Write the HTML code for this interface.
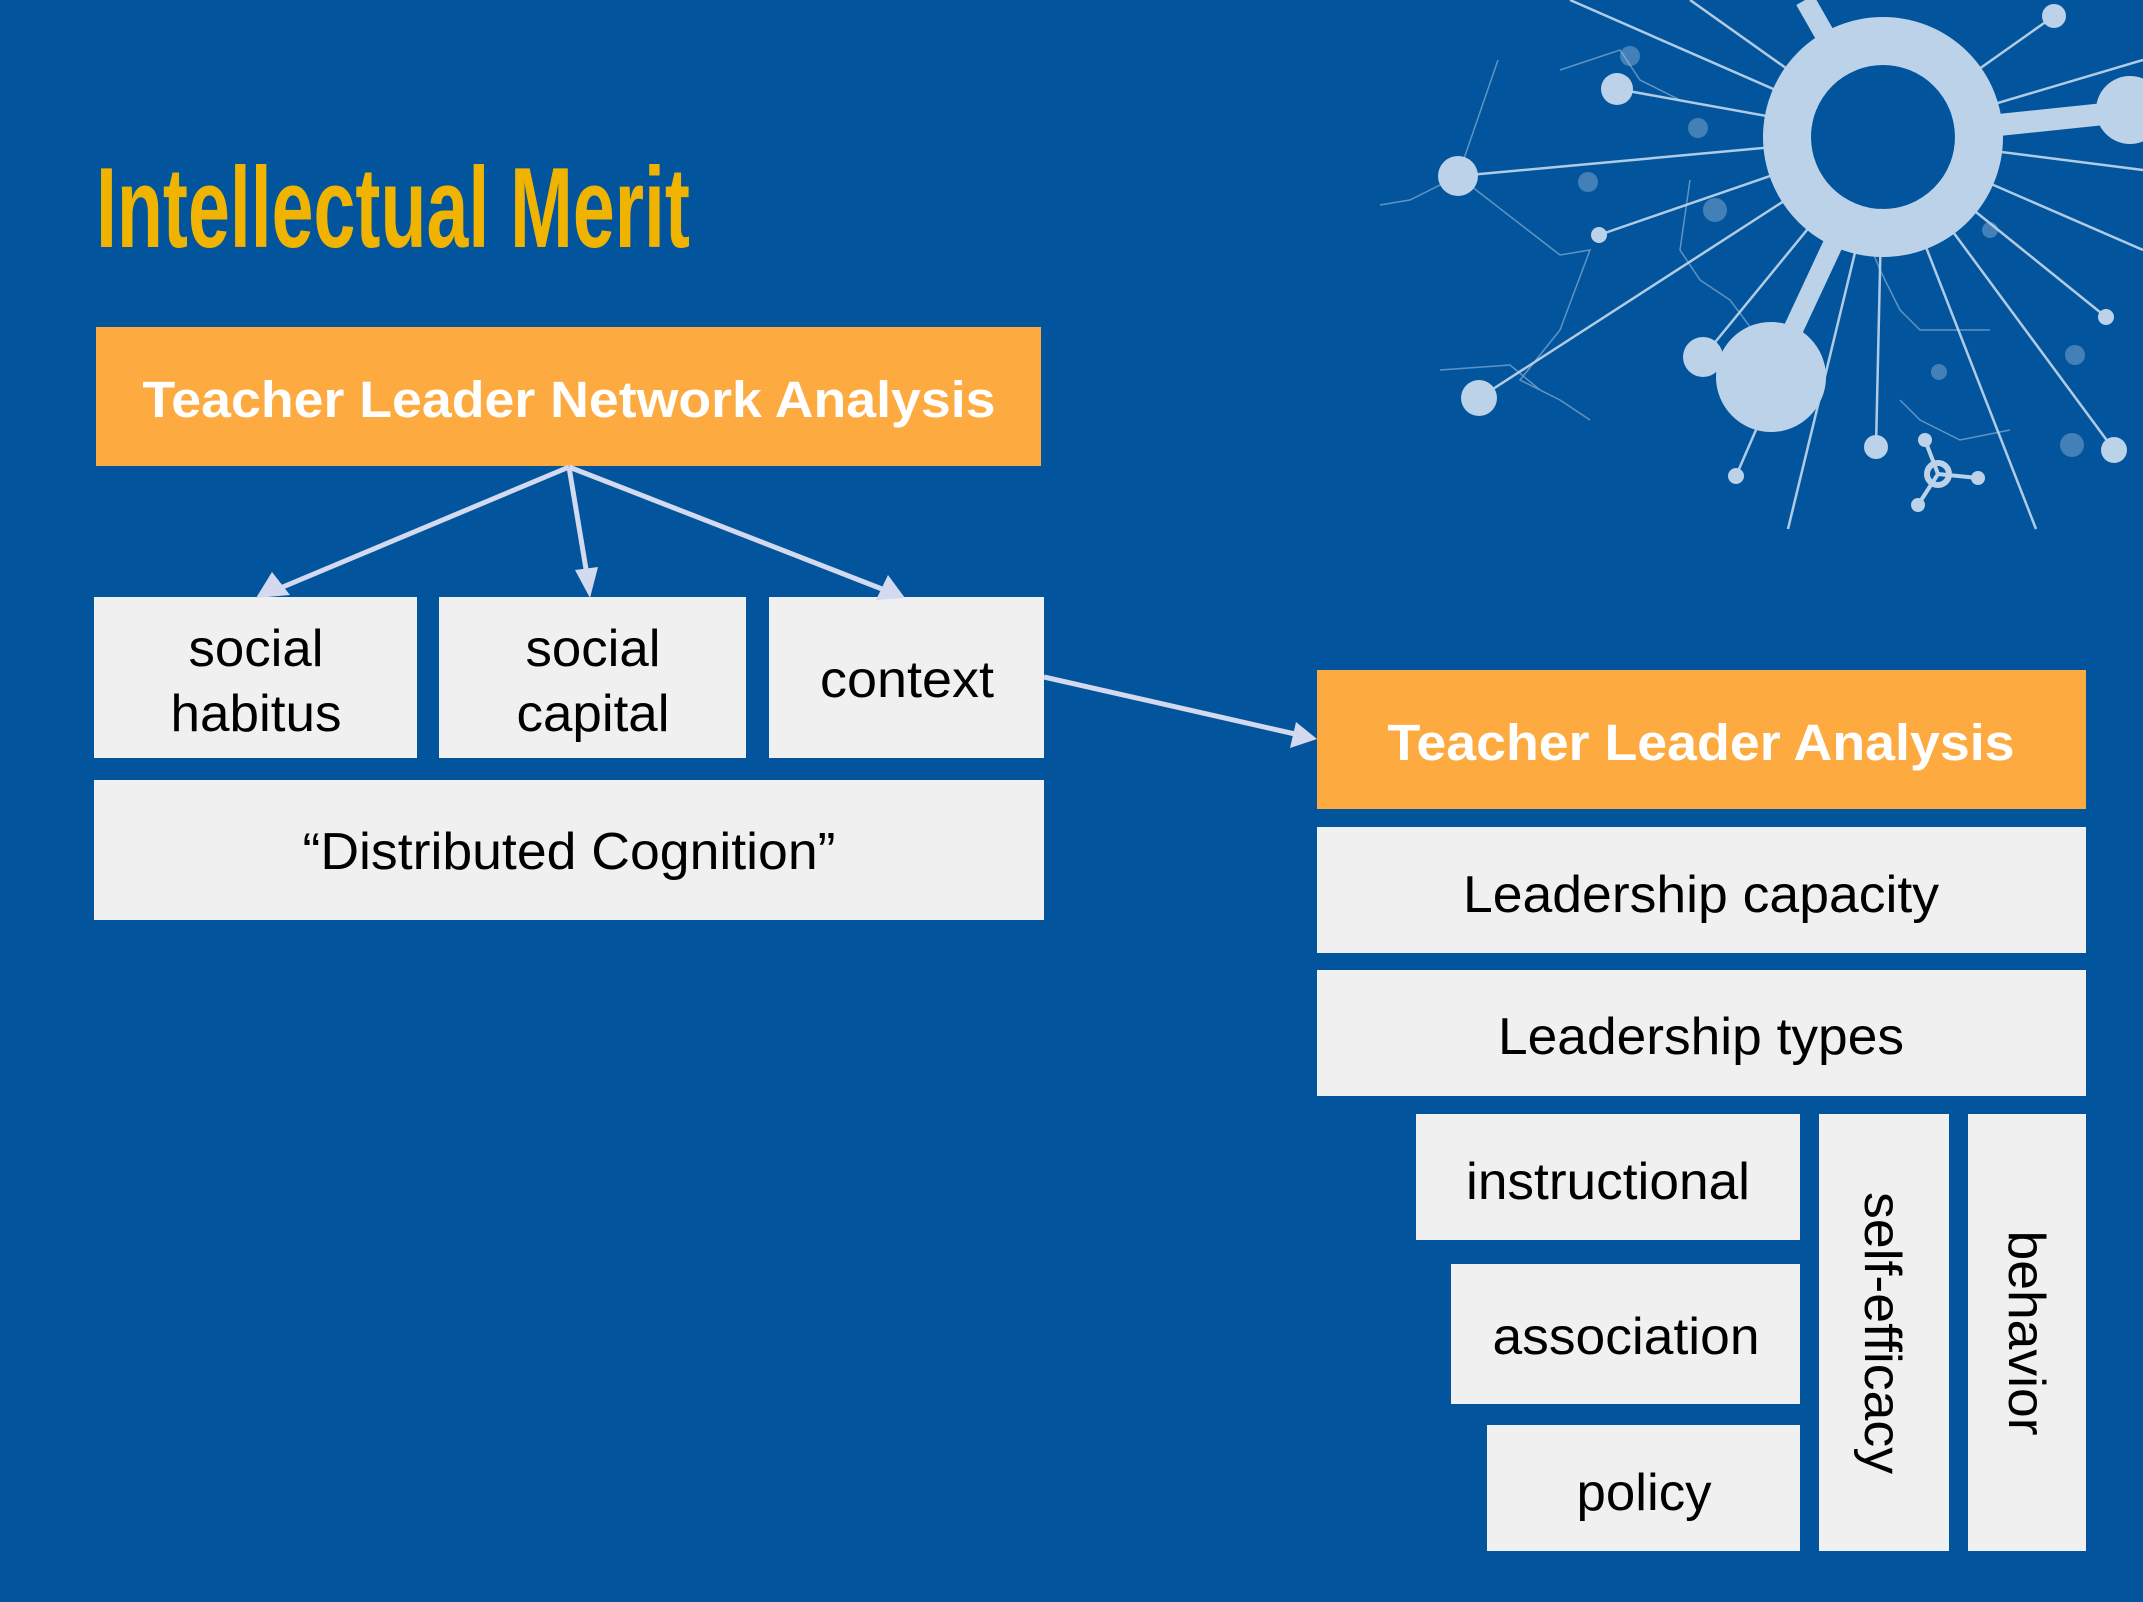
<!DOCTYPE html>
<html><head><meta charset="utf-8"><style>
html,body{margin:0;padding:0;background:#02559d;}
svg{display:block}
text{font-family:"Liberation Sans",Arial,sans-serif}
</style></head><body>
<svg width="2143" height="1602" viewBox="0 0 2143 1602" xmlns="http://www.w3.org/2000/svg">
<rect width="2143" height="1602" fill="#02559d"/>
<!-- network decoration -->
<g stroke="#bcd2e8" fill="#bcd2e8">
 <g stroke-width="2.5" opacity="0.95">
  <line x1="1883" y1="137" x2="1570" y2="0"/>
  <line x1="1883" y1="137" x2="1690" y2="0"/>
  <line x1="1883" y1="137" x2="1617" y2="89"/>
  <line x1="1883" y1="137" x2="1458" y2="176"/>
  <line x1="1883" y1="137" x2="1599" y2="235"/>
  <line x1="1883" y1="137" x2="1479" y2="398"/>
  <line x1="1883" y1="137" x2="1703" y2="357"/>
  <line x1="1883" y1="137" x2="1736" y2="476"/>
  <line x1="1883" y1="137" x2="1788" y2="529"/>
  <line x1="1883" y1="137" x2="1876" y2="447"/>
  <line x1="1883" y1="137" x2="2036" y2="529"/>
  <line x1="1883" y1="137" x2="2114" y2="450"/>
  <line x1="1883" y1="137" x2="2106" y2="317"/>
  <line x1="1883" y1="137" x2="2143" y2="250"/>
  <line x1="1883" y1="137" x2="2054" y2="16"/>
  <line x1="1883" y1="137" x2="2143" y2="60"/>
  <line x1="1883" y1="137" x2="2143" y2="170"/>
 </g>
 <g stroke-width="1.5" opacity="0.5" fill="none">
  <polyline points="1380,205 1410,200 1458,176 1498,60"/>
  <polyline points="1458,176 1560,255 1590,250 1560,330 1520,380 1560,400 1590,420"/>
  <polyline points="1690,180 1680,250 1700,280 1730,300 1760,340 1790,400"/>
  <polyline points="1860,220 1880,270 1900,310 1920,330 1990,330"/>
  <polyline points="1440,370 1510,365 1540,390"/>
  <polyline points="1900,400 1920,420 1960,440 2010,430"/>
  <polyline points="1560,70 1620,50 1640,80 1680,100"/>
 </g>
 <g stroke="none" opacity="0.35">
  <circle cx="1588" cy="182" r="10"/><circle cx="1698" cy="128" r="10"/><circle cx="1715" cy="210" r="12"/>
  <circle cx="1930" cy="190" r="10"/><circle cx="1990" cy="230" r="8"/><circle cx="2075" cy="355" r="10"/>
  <circle cx="2072" cy="445" r="12"/><circle cx="1939" cy="372" r="8"/><circle cx="1630" cy="56" r="10"/>
 </g>
 <line x1="1883" y1="137" x2="1771" y2="377" stroke-width="20"/>
 <line x1="1883" y1="137" x2="2143" y2="110" stroke-width="22"/>
 <line x1="1883" y1="137" x2="1805" y2="0" stroke-width="20"/>
 <circle cx="1883" cy="137" r="72" fill="#02559d" stroke="none"/>
 <circle cx="1883" cy="137" r="96" fill="none" stroke-width="48"/>
 <circle cx="1771" cy="377" r="55" stroke="none"/>
 <circle cx="2130" cy="110" r="34" stroke="none"/>
 <circle cx="1703" cy="357" r="20" stroke="none"/>
 <circle cx="1479" cy="398" r="18" stroke="none"/>
 <circle cx="1458" cy="176" r="20" stroke="none"/>
 <circle cx="1617" cy="89" r="16" stroke="none"/>
 <circle cx="1599" cy="235" r="8" stroke="none"/>
 <circle cx="2054" cy="16" r="12" stroke="none"/>
 <circle cx="2106" cy="317" r="8" stroke="none"/>
 <circle cx="2114" cy="450" r="13" stroke="none"/>
 <circle cx="1876" cy="447" r="12" stroke="none"/>
 <circle cx="1736" cy="476" r="8" stroke="none"/>
 <circle cx="1938" cy="474" r="11" fill="none" stroke-width="6"/>
 <line x1="1938" y1="474" x2="1978" y2="478" stroke-width="4"/><circle cx="1978" cy="478" r="7" stroke="none"/>
 <line x1="1938" y1="474" x2="1918" y2="505" stroke-width="4"/><circle cx="1918" cy="505" r="7" stroke="none"/>
 <line x1="1938" y1="474" x2="1925" y2="440" stroke-width="4"/><circle cx="1925" cy="440" r="7" stroke="none"/>
</g>

<!-- title -->
<text x="96" y="247" font-size="114" font-weight="bold" fill="#f0b400" textLength="594" lengthAdjust="spacingAndGlyphs">Intellectual Merit</text>

<!-- left boxes -->
<rect x="96" y="327" width="945" height="139" fill="#fdab41"/>
<text x="569" y="417" font-size="51" font-weight="bold" fill="#fff" text-anchor="middle" textLength="853" lengthAdjust="spacingAndGlyphs">Teacher Leader Network Analysis</text>

<g fill="#f0f0f0">
 <rect x="94" y="597" width="323" height="161"/>
 <rect x="439" y="597" width="307" height="161"/>
 <rect x="769" y="597" width="275" height="161"/>
 <rect x="94" y="780" width="950" height="140"/>
</g>
<g font-size="52" fill="#000" text-anchor="middle">
 <text x="256" y="666" textLength="135" lengthAdjust="spacingAndGlyphs">social</text>
 <text x="256" y="731" textLength="171" lengthAdjust="spacingAndGlyphs">habitus</text>
 <text x="593" y="666" textLength="135" lengthAdjust="spacingAndGlyphs">social</text>
 <text x="593" y="731" textLength="153" lengthAdjust="spacingAndGlyphs">capital</text>
 <text x="907" y="697" textLength="174" lengthAdjust="spacingAndGlyphs">context</text>
 <text x="569" y="869" textLength="533" lengthAdjust="spacingAndGlyphs">“Distributed Cognition”</text>
</g>

<!-- arrows -->
<g stroke="#d3d9ee" stroke-width="5" fill="#d3d9ee">
 <line x1="569" y1="467" x2="278" y2="589"/>
 <polygon points="256,598 272,572 290,595" stroke="none"/>
 <line x1="569" y1="467" x2="587" y2="575"/>
 <polygon points="590,598 575,570 598,567" stroke="none"/>
 <line x1="569" y1="467" x2="882" y2="589"/>
 <polygon points="905,598 876,600 888,575" stroke="none"/>
 <line x1="1044" y1="677" x2="1295" y2="734"/>
 <polygon points="1317,739 1290,748 1296,722" stroke="none"/>
</g>

<!-- right boxes -->
<rect x="1317" y="670" width="769" height="139" fill="#fdab41"/>
<text x="1701" y="760" font-size="51" font-weight="bold" fill="#fff" text-anchor="middle" textLength="627" lengthAdjust="spacingAndGlyphs">Teacher Leader Analysis</text>
<g fill="#f0f0f0">
 <rect x="1317" y="827" width="769" height="126"/>
 <rect x="1317" y="970" width="769" height="126"/>
 <rect x="1416" y="1114" width="384" height="126"/>
 <rect x="1451" y="1264" width="349" height="140"/>
 <rect x="1487" y="1425" width="313" height="126"/>
 <rect x="1819" y="1114" width="130" height="437"/>
 <rect x="1968" y="1114" width="118" height="437"/>
</g>
<g font-size="52" fill="#000" text-anchor="middle">
 <text x="1701" y="912" textLength="476" lengthAdjust="spacingAndGlyphs">Leadership capacity</text>
 <text x="1701" y="1054" textLength="406" lengthAdjust="spacingAndGlyphs">Leadership types</text>
 <text x="1608" y="1199" textLength="284" lengthAdjust="spacingAndGlyphs">instructional</text>
 <text x="1626" y="1354" textLength="267" lengthAdjust="spacingAndGlyphs">association</text>
 <text x="1644" y="1510" textLength="135" lengthAdjust="spacingAndGlyphs">policy</text>
 <text transform="translate(1865,1333) rotate(90)" x="0" y="0" textLength="282" lengthAdjust="spacingAndGlyphs">self-efficacy</text>
 <text transform="translate(2009,1333) rotate(90)" x="0" y="0" textLength="205" lengthAdjust="spacingAndGlyphs">behavior</text>
</g>
</svg>
</body></html>
